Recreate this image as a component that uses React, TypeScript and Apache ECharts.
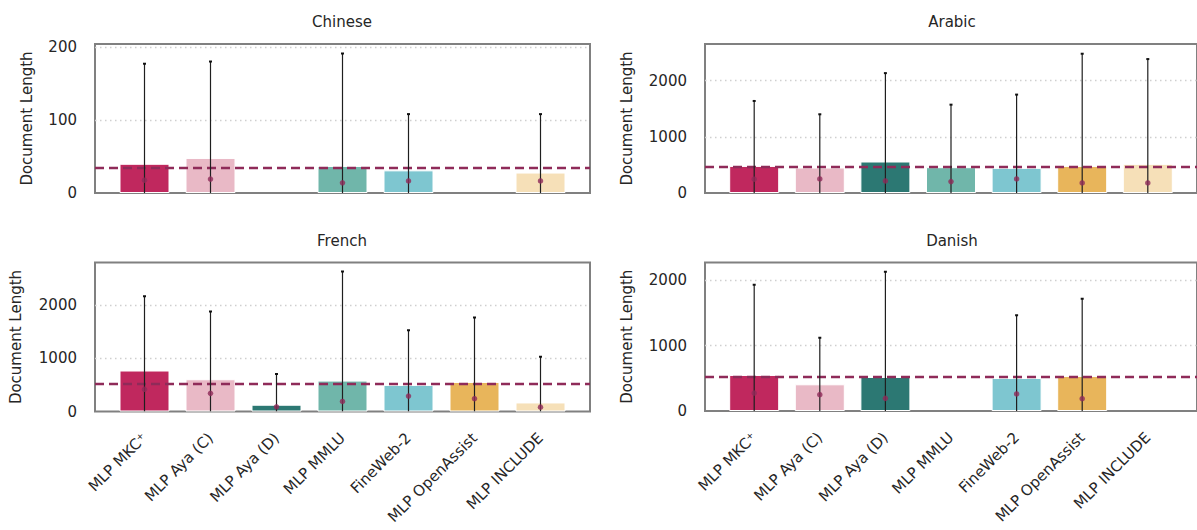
import React, { useEffect, useRef } from "react";
import * as echarts from "echarts";

const categories = [
  "MLP MKC\u207A",
  "MLP Aya (C)",
  "MLP Aya (D)",
  "MLP MMLU",
  "FineWeb-2",
  "MLP OpenAssist",
  "MLP INCLUDE",
];

const barColors = ["#c0285e", "#e9b9c6", "#2c7873", "#70b6aa", "#7ec6d0", "#e8b55b", "#f6e0b8"];

// Chinese
const chineseMean = [40, 48, null, 37, 31, null, 28];
const chineseMedian = [17.5, 19, null, 14, 16.5, null, 16.5];
const chineseUpper = [177, 180, null, 191, 108, null, 108];
const chineseRef = 34;

// Arabic
const arabicMean = [482, 453, 560, 459, 447, 482, 518];
const arabicMedian = [245, 250, 214, 204, 250, 179, 179];
const arabicUpper = [1637, 1400, 2132, 1571, 1750, 2477, 2382];
const arabicRef = 471;

// French
const frenchMean = [770, 606, 127, 581, 499, 555, 170];
const frenchMedian = [417, 341, 89, 189, 290, 240, 82];
const frenchUpper = [2165, 1881, 706, 2633, 1528, 1767, 1029];
const frenchRef = 530;

// Danish
const danishMean = [551, 408, 520, null, 505, 536, null];
const danishMedian = [275, 250, 193, null, 260, 188, null];
const danishUpper = [1929, 1118, 2128, null, 1464, 1715, null];
const danishRef = 525;

const FONT = "DejaVu Sans";
const TEXT = "#262626";
const MAROON = "#8f2b59";

type Panel = {
  title: string;
  mean: (number | null)[];
  median: (number | null)[];
  upper: (number | null)[];
  ref: number;
  max: number;
  interval: number;
  grid: { left: number; top: number; width: number; height: number };
  nameGap: number;
  bottom: boolean;
};

const panels: Panel[] = [
  { title: "Chinese", mean: chineseMean, median: chineseMedian, upper: chineseUpper, ref: chineseRef, max: 204, interval: 100, grid: { left: 95, top: 44, width: 495, height: 149 }, nameGap: 61, bottom: false },
  { title: "Arabic", mean: arabicMean, median: arabicMedian, upper: arabicUpper, ref: arabicRef, max: 2650, interval: 1000, grid: { left: 705, top: 44, width: 495, height: 149 }, nameGap: 71, bottom: false },
  { title: "French", mean: frenchMean, median: frenchMedian, upper: frenchUpper, ref: frenchRef, max: 2800, interval: 1000, grid: { left: 95, top: 262.5, width: 495, height: 149 }, nameGap: 72, bottom: true },
  { title: "Danish", mean: danishMean, median: danishMedian, upper: danishUpper, ref: danishRef, max: 2270, interval: 1000, grid: { left: 705, top: 262.5, width: 495, height: 148.5 }, nameGap: 71, bottom: true },
];

export default function App() {
  const ref = useRef<HTMLDivElement>(null);
  useEffect(() => {
    if (!ref.current) return;
    const chart = echarts.init(ref.current, undefined, { renderer: "svg" });
    const idx = categories.map((_, i) => i);

    const grids = panels.map((p) => ({
      ...p.grid,
      show: true,
      borderColor: "#808080",
      borderWidth: 2,
      backgroundColor: "transparent",
      containLabel: false,
    }));

    const xAxes = panels.map((p, i) => ({
      type: "value",
      gridIndex: i,
      min: -0.75,
      max: 6.75,
      axisLine: { show: false },
      axisTick: { show: false },
      splitLine: { show: false },
      axisLabel: p.bottom
        ? {
            show: true,
            customValues: idx,
            rotate: 45,
            margin: 24,
            fontSize: 15,
            fontFamily: FONT,
            color: TEXT,
            formatter: (v: number) => categories[Math.round(v)] ?? "",
          }
        : { show: false },
    }));

    const yAxes = panels.map((p, i) => ({
      type: "value",
      gridIndex: i,
      min: 0,
      max: p.max,
      interval: p.interval,
      name: "Document Length",
      nameLocation: "middle",
      nameGap: p.nameGap,
      nameTextStyle: { fontSize: 15, fontFamily: FONT, color: TEXT },
      axisLine: { show: false },
      axisTick: { show: false },
      splitLine: {
        show: true,
        showMinLine: false,
        showMaxLine: false,
        lineStyle: { color: "#cfcfcf", width: 1.3, type: [1.5, 3.5] },
      },
      axisLabel: {
        fontSize: 15,
        fontFamily: FONT,
        color: TEXT,
        margin: 18,
        formatter: (v: number) => (Math.abs(v % p.interval) < 1e-6 ? String(v) : ""),
      },
    }));

    const series: any[] = [];
    panels.forEach((p, i) => {
      const barData = idx
        .filter((j) => p.mean[j] != null)
        .map((j) => ({ value: [j, p.mean[j]], itemStyle: { color: barColors[j] } }));
      const errData = idx.filter((j) => p.upper[j] != null).map((j) => [j, 0, p.upper[j]]);
      const dotData = idx.filter((j) => p.median[j] != null).map((j) => [j, p.median[j]]);
      series.push({
        type: "bar",
        xAxisIndex: i,
        yAxisIndex: i,
        barWidth: 50,
        data: barData,
        itemStyle: { borderColor: "#ffffff", borderWidth: 1 },
        z: 2,
        markLine: {
          silent: true,
          symbol: ["none", "none"],
          label: { show: false },
          lineStyle: { color: MAROON, width: 2.4, type: [9, 5] },
          data: [{ yAxis: p.ref }],
          z: 3,
        },
      });
      series.push({
        type: "custom",
        xAxisIndex: i,
        yAxisIndex: i,
        data: errData,
        encode: { x: 0, y: [1, 2] },
        z: 4,
        clip: true,
        renderItem: (params: any, api: any) => {
          const x = api.value(0);
          const lo = api.coord([x, api.value(1)]);
          const hi = api.coord([x, api.value(2)]);
          return {
            type: "group",
            children: [
              { type: "line", shape: { x1: lo[0], y1: lo[1], x2: hi[0], y2: hi[1] }, style: { stroke: "#1f1f1f", lineWidth: 1.2 } },
              { type: "line", shape: { x1: hi[0] - 1.5, y1: hi[1], x2: hi[0] + 1.5, y2: hi[1] }, style: { stroke: "#111111", lineWidth: 2 } },
            ],
          };
        },
      });
      series.push({
        type: "scatter",
        xAxisIndex: i,
        yAxisIndex: i,
        data: dotData,
        symbol: "circle",
        symbolSize: 5.5,
        itemStyle: { color: MAROON },
        z: 5,
      });
    });

    const graphics = panels.map((p) => ({
      type: "text",
      x: p.grid.left + 247,
      y: p.grid.top - 22,
      style: {
        text: p.title,
        fill: TEXT,
        font: `15px "${FONT}"`,
        textAlign: "center",
        textVerticalAlign: "middle",
      },
    }));

    chart.setOption({
      animation: false,
      backgroundColor: "#ffffff",
      grid: grids,
      xAxis: xAxes,
      yAxis: yAxes,
      series,
      graphic: graphics,
    });
    return () => chart.dispose();
  }, []);

  return (
    <div
      ref={ref}
      style={{ position: "fixed", left: 0, top: 0, width: 1197, height: 530 }}
    />
  );
}
